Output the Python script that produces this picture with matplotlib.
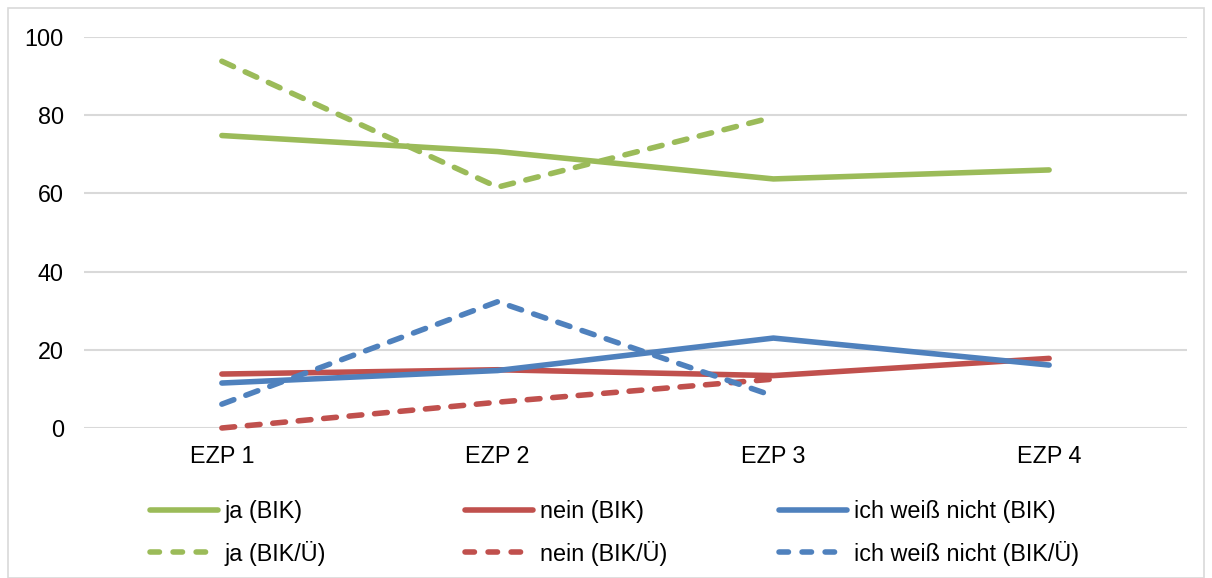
import matplotlib
matplotlib.use("Agg")
import matplotlib.pyplot as plt
from matplotlib.lines import Line2D
from matplotlib.patches import Rectangle

plt.rcParams['font.family'] = ['Liberation Sans', 'DejaVu Sans']

categories = ["EZP 1", "EZP 2", "EZP 3", "EZP 4"]

ja_bik = [74.8, 70.7, 63.7, 66.0]
nein_bik = [13.8, 14.9, 13.4, 17.8]
weiss_bik = [11.5, 14.7, 23.0, 16.1]

ja_bik_ue = [93.8, 61.6, 79.5]
nein_bik_ue = [0.0, 6.6, 12.5]
weiss_bik_ue = [6.1, 32.3, 8.2]

labels_solid = ["ja (BIK)", "nein (BIK)", "ich weiß nicht (BIK)"]
labels_dashed = ["ja (BIK/Ü)", "nein (BIK/Ü)", "ich weiß nicht (BIK/Ü)"]
y_ticks = [0, 20, 40, 60, 80, 100]

GREEN = "#9BBB59"
RED = "#C0504D"
BLUE = "#4F81BD"
colors = [GREEN, RED, BLUE]

W, H = 1212, 578
FS = 16.8
fig = plt.figure(figsize=(W / 100, H / 100), dpi=100)

# light outer frame around the chart
fig.patches.append(Rectangle((8 / W, 0), (W - 16) / W, 1 - 8 / H,
                             transform=fig.transFigure, fill=False,
                             edgecolor="#D9D9D9", linewidth=1.2))

ax = fig.add_axes([84 / W, 1 - 428 / H, (1187 - 84) / W, (428 - 37) / H])
ax.set_xlim(-0.5, len(categories) - 0.5)
ax.set_ylim(0, 100)

for s in ax.spines.values():
    s.set_visible(False)
ax.set_yticks(y_ticks)
ax.set_xticks(range(len(categories)))
ax.set_xticklabels(categories)
ax.tick_params(length=0, labelsize=FS, colors="black")
ax.tick_params(axis="x", pad=12.5)
ax.tick_params(axis="y", pad=14.5)
ax.yaxis.grid(True, color="#D9D9D9", linewidth=1.5)
ax.set_axisbelow(True)

lw = 4.0
dash = (0, (2.3, 2.3))
solid_series = [ja_bik, nein_bik, weiss_bik]
dashed_series = [ja_bik_ue, nein_bik_ue, weiss_bik_ue]

for vals, c in zip(solid_series, colors):
    ax.plot(range(len(vals)), vals, color=c, linewidth=lw,
            solid_capstyle="round", solid_joinstyle="round", clip_on=False)
for vals, c in zip(dashed_series, colors):
    ax.plot(range(len(vals)), vals, color=c, linewidth=lw, linestyle=dash,
            dash_capstyle="round", dash_joinstyle="round", clip_on=False)

# legend: three columns, solid entry above dashed entry
col_x = [150, 465, 779]
for x, c, ls_lab, ds_lab in zip(col_x, colors, labels_solid, labels_dashed):
    handles = [
        Line2D([], [], color=c, linewidth=lw, solid_capstyle="round"),
        Line2D([], [], color=c, linewidth=lw, linestyle=(0, (1.7, 2.45)),
               dash_capstyle="round"),
    ]
    fig.legend(handles, [ls_lab, ds_lab], loc="upper left",
               bbox_to_anchor=(x / W, 1 - 500 / H), frameon=False,
               fontsize=FS, handlelength=2.9, handletextpad=0.3,
               labelspacing=0.75, borderaxespad=0, borderpad=0)

fig.savefig("out.png", dpi=100)
